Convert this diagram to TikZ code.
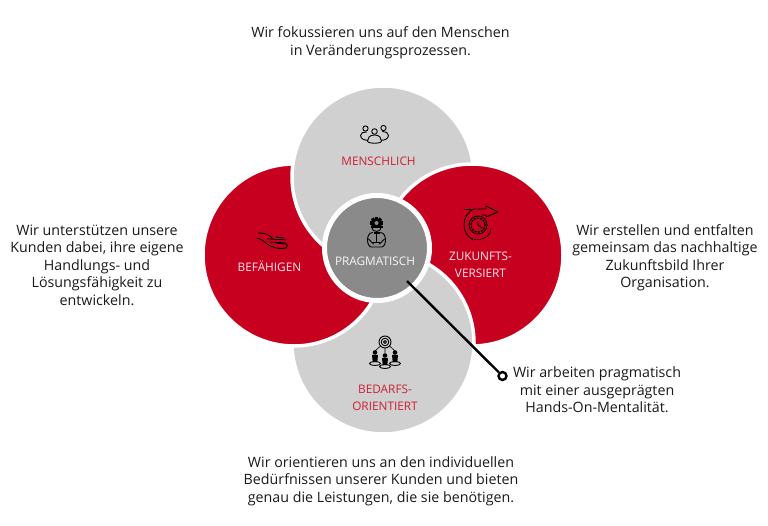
\documentclass[tikz,border=0pt]{standalone}
\usepackage{fontspec}
\setmainfont{Open Sans}
\definecolor{myred}{HTML}{C8001F}
\definecolor{lightg}{HTML}{D0D0D0}
\definecolor{midg}{HTML}{8A8A8A}
\definecolor{lblred}{HTML}{CC1F36}
\definecolor{txt}{HTML}{1A1A1A}
\tikzset{
  x=1pt,y=-1pt,
  petal/.style={circle,draw=white,line width=3.5pt,minimum size=182pt,inner sep=0pt,outer sep=0pt},
  redpetal/.style={petal,fill=myred},
  greypetal/.style={petal,fill=lightg},
  hub/.style={circle,draw=white,line width=5pt,fill=midg,minimum size=105pt,inner sep=0pt},
  para/.style={align=center,font=\fontsize{14.25}{17.5}\selectfont,text=txt,inner sep=0pt},
  lab/.style={align=center,font=\fontsize{11.8}{17}\selectfont,inner sep=0pt},
  ico/.style={draw=black,line width=0.9pt,line cap=round,line join=round},
  dot/.style={circle,draw=black,line width=2.4pt,fill=white,minimum size=8pt,inner sep=0pt},
}
\begin{document}
\begin{tikzpicture}
\useasboundingbox (0,0) rectangle (768,526);
\fill[white] (0,0) rectangle (768,526);
% petals, cyclic overlap
\node[greypetal] (bottom) at (383,343) {};
\node[redpetal] (left) at (294,255) {};
\node[greypetal] (top) at (383,177) {};
\node[redpetal] (right) at (472,255) {};
\begin{scope}
  \clip (380,262) rectangle (500,440);
  \node[greypetal] (bottomb) at (383,343) {};
\end{scope}
\node[hub] (hub) at (377,248) {};
% connector
\node[dot] (dotc) at (502.5,376) {};
\coordinate (lstart) at (407,281);
\draw[black,line width=2.4pt] (lstart) -- (dotc);
% labels
\node[lab,text=lblred] (l1) at (378.5,161) {MENSCHLICH};
\node[lab,text=white!90!myred] (l2) at (269.5,266) {BEFÄHIGEN};
\node[lab,text=white!92!midg] (l3) at (375,261) {PRAGMATISCH};
\node[lab,text=white!90!myred] (l4) at (480.5,264.5) {ZUKUNFTS-\\VERSIERT};
\node[lab,text=lblred] (l5) at (385,397.5) {BEDARFS-\\ORIENTIERT};
% paragraphs
\node[para] (p1) at (380.5,43) {Wir fokussieren uns auf den Menschen\\in Veränderungsprozessen.};
\node[para] (p2) at (97,265) {Wir unterstützen unsere\\Kunden dabei, ihre eigene\\Handlungs- und\\Lösungsfähigkeit zu\\entwickeln.};
\node[para] (p3) at (665,258) {Wir erstellen und entfalten\\gemeinsam das nachhaltige\\Zukunftsbild Ihrer\\Organisation.};
\node[para] (p4) at (381,481) {Wir orientieren uns an den individuellen\\Bedürfnissen unserer Kunden und bieten\\genau die Leistungen, die sie benötigen.};
\node[para] (p5) at (597,390) {Wir arbeiten pragmatisch\\mit einer ausgeprägten\\Hands-On-Mentalität.};
% icon: people
\begin{scope}[shift={(374.5,136)}]
  \draw[ico] (-9,-7.5) circle (2.6) (9,-8) circle (2.6) (0,-4.5) circle (2.8);
  \draw[ico] (-6,4) .. controls (-9,5) and (-14,3) .. (-14,-0.5) .. controls (-14,-3) and (-11,-4.5) .. (-8,-4);
  \draw[ico] (6,4) .. controls (9,5) and (14,3) .. (14,-0.5) .. controls (14,-3) and (11,-5) .. (8,-4.5);
  \draw[ico,fill=lightg] (0,-1) .. controls (-5,-1) and (-7,2) .. (-7,5) .. controls (-7,8) and (7,8) .. (7,5) .. controls (7,2) and (5,-1) .. (0,-1) -- cycle;
\end{scope}
% icon: open hand
\begin{scope}[shift={(272,241)}]
  \draw[ico] (-14,-8) .. controls (-7,-8) and (-3,-7) .. (1,-2) -- (-5,-2) (-1,-2) .. controls (3,-1) and (9,-2) .. (14,-1);
  \draw[ico] (-15,-3) .. controls (-11,-2) and (-8,0) .. (-5,3) .. controls (-1,6) and (8,9) .. (14,7) .. controls (16,5) and (16,3) .. (14,3) -- (4,2);
  \draw[ico] (-2,1) -- (14,2) (4,-4) -- (12,-3);
\end{scope}
% icon: hard-hat worker
\begin{scope}[shift={(376.5,223)}]
  \foreach \a in {0,45,...,315}{
    \fill[black,rotate=\a] (-1.6,-6.2) rectangle (1.6,0);
  }
  \fill[black] (0,0) circle (4.8);
  \fill[midg] (0,0) circle (2);
  \draw[black,line width=1.4pt] (-6,4) -- (6,4);
  \fill[midg] (-6,4.8) rectangle (6,9);
  \draw[ico] (-4.5,5) .. controls (-4.5,9.5) and (4.5,9.5) .. (4.5,5);
  \draw[ico] (-4,9.5) .. controls (-11,10) and (-10,24) .. (-5,24) -- (5,24) .. controls (10,24) and (11,10) .. (4,9.5);
  \draw[black,line width=1.6pt] (-3,10) -- (3,10) (0,10) -- (0,19) (-3.5,19.5) -- (3.5,19.5);
  \draw[ico] (-8,16) -- (-3,21) (8,16) -- (3,21);
\end{scope}
% icon: clock with arrow
\begin{scope}[shift={(478,225)}]
  \draw[ico,dash pattern=on 1.2pt off 1.4pt] (-14,-16) -- (-4,-16);
  \draw[ico] (-4,-16) -- (8,-16) -- (8,-19) -- (20,-13) -- (8,-8) -- (8,-10) -- (4,-10);
  \draw[ico] (-4,-16) .. controls (-10,-14) and (-14,-7) .. (-14,0) .. controls (-14,7) and (-10,12) .. (-6,14);
  \draw[ico,dash pattern=on 1.2pt off 1.4pt] (-6,14) .. controls (0,16) and (12,14) .. (13,4);
  \draw[ico] (0,0) circle (9);
  \draw[ico,dash pattern=on 1.2pt off 2pt,line width=1.5pt] (0,0) circle (7);
  \draw[ico] (0,-4) -- (0,0) -- (4,3);
\end{scope}
% icon: target with three people
\begin{scope}[shift={(385,354)}]
  \draw[ico,line width=0.9pt] (0,-12) circle (6) (0,-12) circle (3.8) (0,-12) circle (1.6);
  \draw[black,line width=0.6pt] (-4.5,-8) -- (-10,-3) (0,-6) -- (0,-1) (4.5,-8) -- (10,-3);
  \foreach \px/\py in {-10/1,0/4,10/1}{
    \begin{scope}[shift={(\px,\py)}]
      \fill[black] (0,-2.5) circle (2.3);
      \fill[black] (-3,0) -- (3,0) -- (2.3,7) -- (-2.3,7) -- cycle;
      \draw[black,line width=0.9pt] (0,8.5) ellipse (5.5 and 2);
    \end{scope}
  }
\end{scope}
\end{tikzpicture}
\end{document}
